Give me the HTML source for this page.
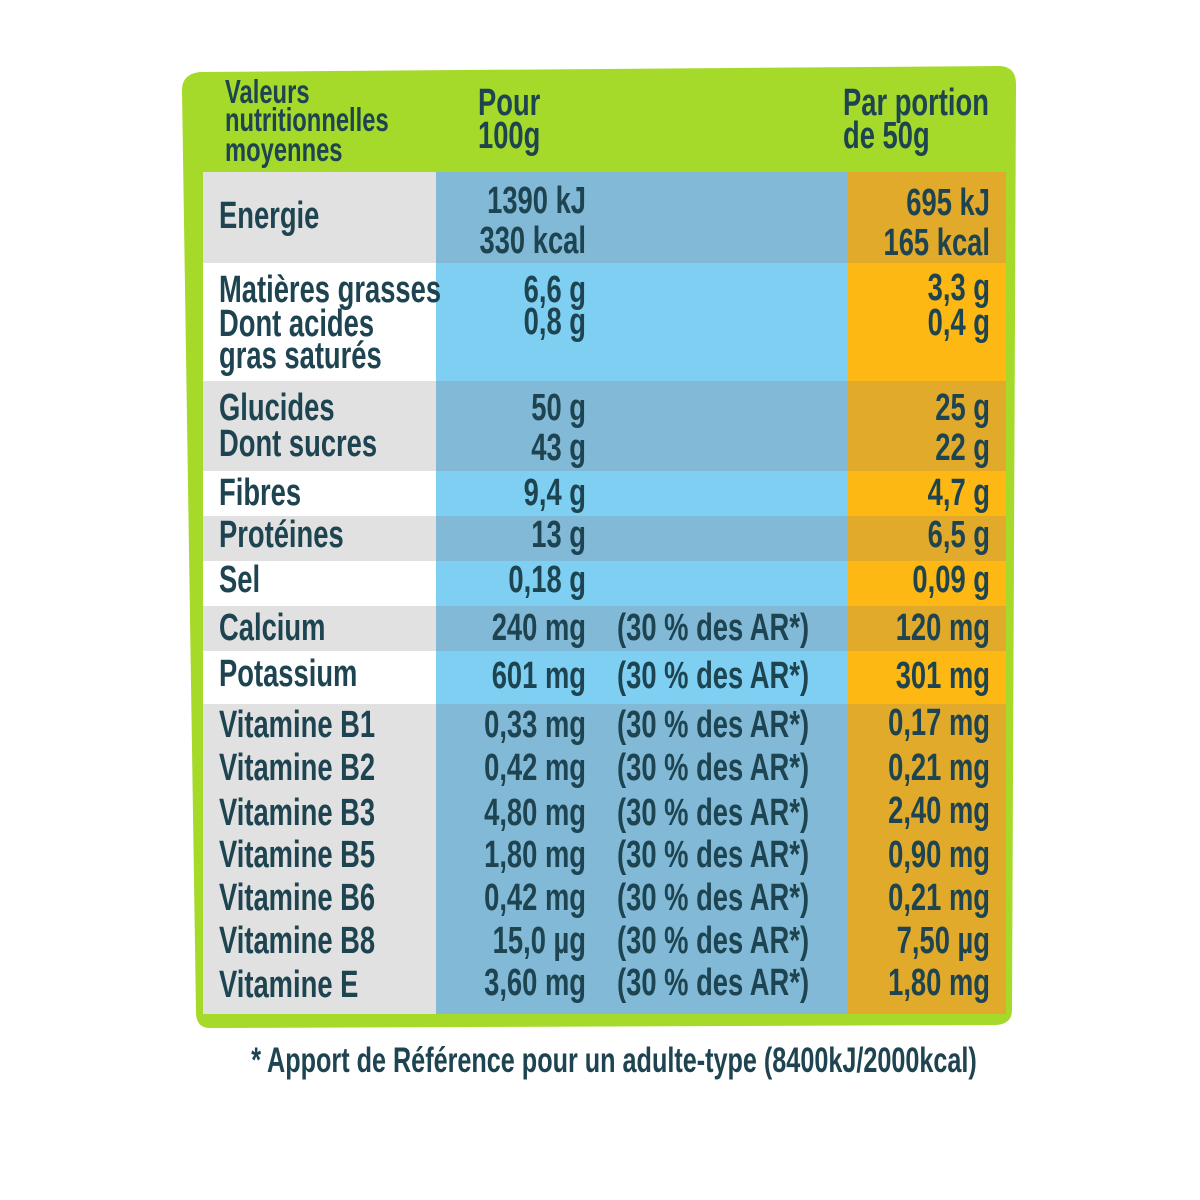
<!DOCTYPE html>
<html><head><meta charset="utf-8"><style>
html,body{margin:0;padding:0;background:#fff}
svg{display:block}
text{font-family:"Liberation Sans",sans-serif;font-weight:bold;fill:#1d4450}
</style></head><body>
<svg id="s" width="1200" height="1200" viewBox="0 0 1200 1200">
<path d="M200,72 L1000,66 Q1016,67 1016,84 L1012,1010 Q1012,1024 996,1025 L210,1028 Q196,1028 196,1012 L182,90 Q182,74 200,72 Z" fill="#a5d92a"/>
<g id="bg"></g>
<g id="tx"></g>
</svg>
<script>
const rows=[
 {y0:172,y1:263,dark:true},{y0:263,y1:381,dark:false},{y0:381,y1:471,dark:true},
 {y0:471,y1:516,dark:false},{y0:516,y1:561,dark:true},{y0:561,y1:606,dark:false},
 {y0:606,y1:651,dark:true},{y0:651,y1:704,dark:false},{y0:704,y1:1014,dark:true}];
const cols=[[203,436,'#e1e1e1','#ffffff'],[436,847,'#82b9d6','#7ecff1'],[847,1006,'#e2aa2a','#fdb813']];
const NS='http://www.w3.org/2000/svg';
const bg=document.getElementById('bg'),tx=document.getElementById('tx');
rows.forEach((r,i)=>cols.forEach((c,j)=>{
 const e=document.createElementNS(NS,'rect');
 e.setAttribute('x',c[0]);e.setAttribute('y',r.y0);e.setAttribute('width',c[1]-c[0]);e.setAttribute('height',r.y1-r.y0);
 e.setAttribute('fill',r.dark?c[2]:c[3]);
 
 
 bg.appendChild(e);
}));
function t(s,x,y,anchor,size,name){
 const e=document.createElementNS(NS,'text');
 e.textContent=s;
 e.setAttribute('transform','translate('+x+','+y+') scale(0.72,1)');
 e.setAttribute('font-size',size||36);
 if(anchor)e.setAttribute('text-anchor',anchor);
 
 
 tx.appendChild(e);
}
t('Valeurs',225,103,null,33,'header-label');
t('nutritionnelles',225,131,null,33,'header-label');
t('moyennes',225,161,null,33,'header-label');
t('Pour',478,115,null,38,'header-per-100g');
t('100g',478,148,null,38,'header-per-100g');
t('Par portion',843,115,null,38,'header-per-portion');
t('de 50g',843,148,null,38,'header-per-portion');
const names=[['Energie',228],['Matières grasses',302],['Dont acides',336],['gras saturés',368],['Glucides',420],['Dont sucres',456],['Fibres',505],['Protéines',547],['Sel',592],['Calcium',640],['Potassium',686],['Vitamine B1',737],['Vitamine B2',780],['Vitamine B3',825],['Vitamine B5',867],['Vitamine B6',910],['Vitamine B8',953],['Vitamine E',997]];
names.forEach(n=>t(n[0],219,n[1],null,38,'nutrient-name'));
const v100=[['1390 kJ',213],['330 kcal',253],['6,6 g',302],['0,8 g',334],['50 g',420],['43 g',460],['9,4 g',505],['13 g',547],['0,18 g',592],['240 mg',640],['601 mg',688],['0,33 mg',737],['0,42 mg',780],['4,80 mg',825],['1,80 mg',867],['0,42 mg',910],['15,0 µg',953],['3,60 mg',995]];
v100.forEach(v=>t(v[0],586,v[1],'end',38,'value-per-100g'));
const vp=[['695 kJ',215],['165 kcal',255],['3,3 g',300],['0,4 g',335],['25 g',420],['22 g',460],['4,7 g',505],['6,5 g',547],['0,09 g',592],['120 mg',640],['301 mg',688],['0,17 mg',735],['0,21 mg',780],['2,40 mg',823],['0,90 mg',867],['0,21 mg',910],['7,50 µg',953],['1,80 mg',995]];
vp.forEach(v=>t(v[0],990,v[1],'end',38,'value-per-portion'));
[640,688,737,780,825,867,910,953,995].forEach(y=>t('(30 % des AR*)',617,y,null,38,'reference-intake'));
t('* Apport de Référence pour un adulte-type (8400kJ/2000kcal)',614,1072,'middle',35,'footnote');
</script>
</body></html>
